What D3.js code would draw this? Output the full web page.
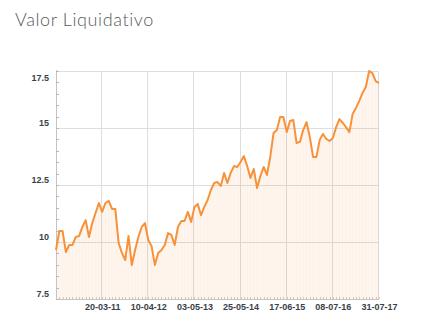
<!DOCTYPE html>
<html>
<head>
<meta charset="utf-8">
<script src="https://cdn.jsdelivr.net/npm/d3@7/dist/d3.min.js"></script>
<style>
  html, body { margin: 0; padding: 0; background: #fff; }
  svg { display: block; }
</style>
</head>
<body>
<svg id="chart" width="425" height="332"></svg>
<script>
// Net asset value series, one point per period (about every four weeks)
const title = "Valor Liquidativo";
const values = [
  9.65, 10.48, 10.48, 9.56, 9.87, 9.87, 10.22, 10.26, 10.66, 10.96,
  10.22, 10.83, 11.27, 11.71, 11.32, 11.71, 11.80, 11.45, 11.45, 9.96,
  9.52, 9.21, 10.26, 8.99, 9.65, 10.22, 10.66, 10.83, 10.09, 9.82,
  8.99, 9.52, 9.65, 9.87, 10.39, 10.31, 9.87, 10.66, 10.92, 10.92,
  11.32, 10.88, 11.54, 11.67, 11.18, 11.54, 11.84, 12.28, 12.59, 12.63,
  12.46, 13.03, 12.59, 13.03, 13.33, 13.29, 13.51, 13.77, 13.33, 12.81,
  13.20, 12.37, 12.89, 13.29, 12.94, 13.73, 14.78, 14.91, 15.48, 15.48,
  14.82, 15.31, 15.35, 14.34, 14.39, 14.91, 15.26, 14.61, 13.73, 13.73,
  14.47, 14.74, 14.52, 14.43, 14.56, 15.04, 15.39, 15.22, 15.04, 14.82,
  15.61, 15.88, 16.18, 16.54, 16.80, 17.50, 17.41, 17.06, 16.97
];
// Labelled positions on the category axis
const tickIndex = [14, 28, 42, 56, 70, 84, 98];
const tickLabels = ["20-03-11", "10-04-12", "03-05-13", "25-05-14", "17-06-15", "08-07-16", "31-07-17"];
const yTicks = [7.5, 10, 12.5, 15, 17.5];
const yMinorStep = 0.5;

const svg = d3.select("#chart");
const plot = { left: 56, right: 379, top: 71, bottom: 299 };

const x = d3.scaleLinear().domain([0, values.length - 1]).range([plot.left, plot.right]);
const y = d3.scaleLinear().domain([yTicks[0], yTicks[yTicks.length - 1]]).range([plot.bottom, plot.top]);

// Title
svg.append("text")
  .attr("x", 15).attr("y", 26)
  .attr("font-family", "Lato, 'Open Sans', sans-serif")
  .attr("font-weight", 300)
  .attr("font-size", 18)
  .attr("letter-spacing", 0.6)
  .attr("fill", "#595959")
  .text(title);

// Grid lines
const grid = svg.append("g");
grid.selectAll("line.h").data(yTicks).join("line")
  .attr("x1", plot.left).attr("x2", plot.right)
  .attr("y1", d => Math.round(y(d)) + 0.5).attr("y2", d => Math.round(y(d)) + 0.5)
  .attr("stroke", "#dedede");
grid.selectAll("line.v").data(tickIndex).join("line")
  .attr("x1", d => Math.round(x(d)) - 0.5).attr("x2", d => Math.round(x(d)) - 0.5)
  .attr("y1", plot.top).attr("y2", plot.bottom)
  .attr("stroke", "#dedede");

// Area under the line
const area = d3.area().x((d, i) => x(i)).y0(plot.bottom).y1(d => y(d));
svg.append("path").datum(values)
  .attr("d", area)
  .attr("fill", "rgba(247,146,58,0.085)");

// faint vertical banding inside the area, one per point
svg.append("g").selectAll("line").data(values).join("line")
  .attr("x1", (d, i) => x(i)).attr("x2", (d, i) => x(i))
  .attr("y1", d => y(d) + 2).attr("y2", plot.bottom)
  .attr("stroke", "rgba(240,150,90,0.045)")
  .attr("stroke-width", 1);

// Axis lines
svg.append("line")
  .attr("x1", plot.left + 0.5).attr("x2", plot.left + 0.5)
  .attr("y1", plot.top - 1).attr("y2", plot.bottom + 1)
  .attr("stroke", "#c4c4c4");
svg.append("line")
  .attr("x1", plot.left).attr("x2", plot.right)
  .attr("y1", plot.bottom + 0.5).attr("y2", plot.bottom + 0.5)
  .attr("stroke", "#c8c4c0");

// Minor ticks
const minor = d3.range(yTicks[0], yTicks[yTicks.length - 1] + 0.001, yMinorStep);
svg.append("g").selectAll("line").data(minor).join("line")
  .attr("x1", plot.left).attr("x2", plot.left + 3)
  .attr("y1", d => Math.round(y(d)) + 0.5).attr("y2", d => Math.round(y(d)) + 0.5)
  .attr("stroke", "#b8b8b8");
svg.append("g").selectAll("line").data(values).join("line")
  .attr("x1", (d, i) => Math.round(x(i)) + 0.5).attr("x2", (d, i) => Math.round(x(i)) + 0.5)
  .attr("y1", plot.bottom).attr("y2", plot.bottom - 2)
  .attr("stroke", "#cdc8c4");

// Value line
svg.append("path").datum(values)
  .attr("d", d3.line().x((d, i) => x(i)).y(d => y(d)))
  .attr("fill", "none")
  .attr("stroke", "#f7923a")
  .attr("stroke-width", 2)
  .attr("stroke-linejoin", "round");

// Y axis labels
const yAxis = svg.append("g")
  .attr("transform", `translate(${plot.left},0)`)
  .call(d3.axisLeft(y).tickValues(yTicks).tickSize(0).tickPadding(7).tickFormat(d => String(d)));
yAxis.select(".domain").remove();
yAxis.selectAll("text")
  .attr("dy", null)
  .attr("y", d => Math.max(-3, plot.top + 9 - y(d)))
  .attr("font-family", "'Liberation Sans', Arial, sans-serif")
  .attr("font-weight", "bold")
  .attr("font-size", 9)
  .attr("fill", "#3a3f48");

// X axis labels
const xAxis = svg.append("g")
  .attr("transform", `translate(0,${plot.bottom})`)
  .call(d3.axisBottom(x).tickValues(tickIndex).tickSize(0)
    .tickFormat(d => tickLabels[tickIndex.indexOf(d)]));
xAxis.select(".domain").remove();
xAxis.selectAll("text")
  .attr("dy", null)
  .attr("y", 11)
  .attr("font-family", "'Liberation Sans', Arial, sans-serif")
  .attr("font-weight", "bold")
  .attr("font-size", 9)
  .attr("fill", "#3a3f48");
</script>
</body>
</html>
